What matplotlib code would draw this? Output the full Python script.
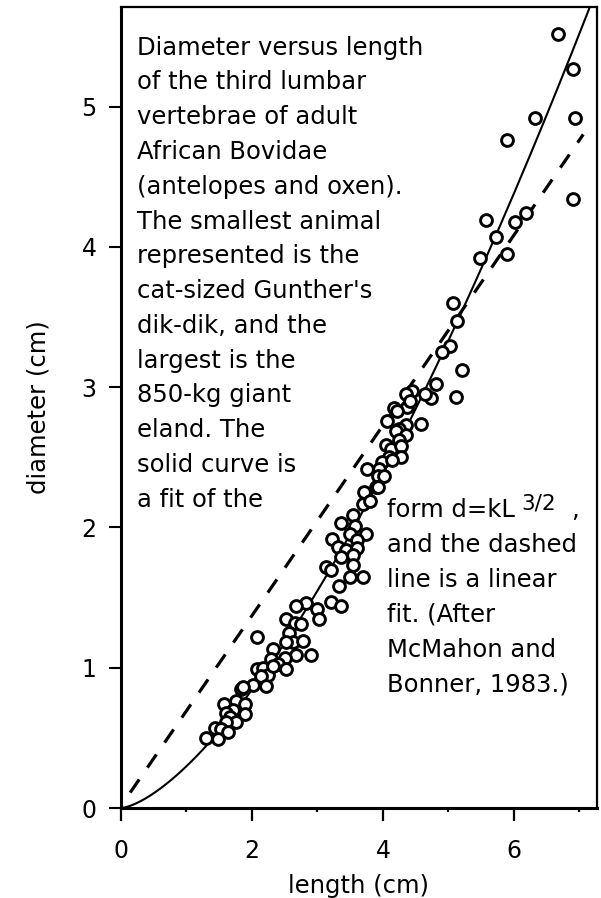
import numpy as np
import matplotlib.pyplot as plt
from matplotlib.ticker import MultipleLocator

# length (cm) and diameter (cm) of the third lumbar vertebra
length = [6.68, 6.90, 6.33, 6.93, 5.89, 6.90, 5.57, 6.01, 6.18, 5.72, 5.49, 5.89,
          5.07, 5.13, 5.03, 4.90, 5.21, 4.81, 4.73, 5.12, 4.45, 4.36, 4.65, 4.37, 4.17,
          4.42, 4.22, 4.07, 4.58, 4.35, 4.25, 4.20, 4.35, 4.25, 4.04, 4.12, 4.27, 4.09,
          4.27, 3.99, 4.14, 3.94, 3.92, 4.02, 3.76, 3.89,
          3.92, 3.71, 3.70, 3.80, 3.54, 3.36, 3.57, 3.49, 3.74, 3.23, 3.61, 3.31, 3.44,
          3.61, 3.36, 3.54, 3.54, 3.13, 3.21, 3.49, 3.70, 3.33, 2.83, 2.67, 3.00, 3.21,
          3.36, 3.03, 2.52, 2.65, 2.75,
          2.07, 2.57, 2.62, 2.78, 2.32, 2.52, 2.90, 2.67, 2.50, 2.29, 2.40, 2.52, 2.07,
          2.17, 2.24, 2.32, 2.14, 2.22, 2.01, 1.84, 1.86, 1.58, 1.76, 1.89, 1.71, 1.89,
          1.61, 1.66, 1.76, 1.61, 1.43, 1.53, 1.63, 1.30, 1.48]
diameter = [5.52, 5.27, 4.92, 4.92, 4.76, 4.34, 4.19, 4.18, 4.24, 4.07, 3.92, 3.95,
            3.60, 3.47, 3.29, 3.25, 3.12, 3.02, 2.92, 2.93, 2.97, 2.95, 2.95, 2.86, 2.85,
            2.90, 2.83, 2.76, 2.74, 2.73, 2.70, 2.69, 2.66, 2.62, 2.59, 2.56, 2.58, 2.50,
            2.50, 2.47, 2.48, 2.42, 2.37, 2.37, 2.42, 2.29,
            2.29, 2.25, 2.17, 2.19, 2.09, 2.03, 2.01, 1.95, 1.95, 1.92, 1.91, 1.86, 1.84,
            1.85, 1.79, 1.80, 1.73, 1.72, 1.70, 1.65, 1.65, 1.58, 1.46, 1.44, 1.42, 1.47,
            1.44, 1.35, 1.35, 1.32, 1.31,
            1.22, 1.25, 1.18, 1.19, 1.13, 1.18, 1.09, 1.09, 1.07, 1.06, 1.03, 0.99, 0.99,
            1.00, 0.95, 1.01, 0.94, 0.87, 0.88, 0.85, 0.86, 0.74, 0.76, 0.74, 0.70, 0.67,
            0.68, 0.65, 0.61, 0.61, 0.57, 0.56, 0.54, 0.50, 0.49]

# fits: d = k L^(3/2) (solid) and a straight line (dashed)
k_power = 0.298
lin_slope = 0.678
lin_icpt = 0.015
lin_range = [0.14, 7.06]

caption_top = ["Diameter versus length", "of the third lumbar", "vertebrae of adult",
               "African Bovidae", "(antelopes and oxen).", "The smallest animal",
               "represented is the", "cat-sized Gunther's", "dik-dik, and the",
               "largest is the", "850-kg giant", "eland. The", "solid curve is",
               "a fit of the"]
caption_form = "form d=kL"
caption_exp = "3/2"
caption_bottom = ["and the dashed", "line is a linear", "fit. (After",
                  "McMahon and", "Bonner, 1983.)"]

plt.rcParams['font.family'] = ['DejaVu Sans']

fig = plt.figure(figsize=(6.01, 8.98), dpi=100)
ax = fig.add_axes([121 / 601, 1 - 808 / 898, 476 / 601, 801 / 898])

xs = np.linspace(0, 7.3, 300)
ax.plot(xs, k_power * xs ** 1.5, color='black', lw=1.5)
xl = np.array(lin_range)
ax.plot(xl, lin_slope * xl + lin_icpt, color='black', lw=2.3, dashes=(5, 4.5))
ax.plot(length, diameter, 'o', ms=8.5, mfc='white', mec='black', mew=2.1)

ax.set_xlim(0, 7.27)
ax.set_ylim(0, 5.71)
ax.xaxis.set_major_locator(MultipleLocator(2))
ax.xaxis.set_minor_locator(MultipleLocator(1))
ax.yaxis.set_major_locator(MultipleLocator(1))
ax.tick_params(axis='x', which='major', direction='out', length=9.5, width=1.6,
               pad=13, labelsize=17)
ax.tick_params(axis='x', which='minor', direction='out', length=3, width=1.6)
ax.tick_params(axis='y', which='major', direction='out', length=8.5, width=1.5,
               pad=9, labelsize=17)
for side in ['left', 'bottom']:
    ax.spines[side].set_linewidth(2.2)
for side in ['top', 'right']:
    ax.spines[side].set_linewidth(1.6)

ax.set_xlabel('length (cm)', fontsize=17.5, labelpad=8)
ax.set_ylabel('diameter (cm)', fontsize=17.5, labelpad=22)

# captions, one text per line (baselines in data units)
y0, dy = 5.37, 0.2478
for i, line in enumerate(caption_top):
    ax.text(0.24, y0 - i * dy, line, fontsize=17.5, va='baseline', ha='left')

yf = 2.076
ax.text(4.06, yf, caption_form, fontsize=17.5, va='baseline', ha='left')
ax.text(6.12, yf + 0.05, caption_exp, fontsize=15.5, va='baseline', ha='left')
ax.text(6.88, yf, ",", fontsize=17.5, va='baseline', ha='left')
for i, line in enumerate(caption_bottom):
    ax.text(4.06, yf - (i + 1) * 0.2495, line, fontsize=17.5, va='baseline', ha='left')

fig.savefig('out.png', dpi=100)
